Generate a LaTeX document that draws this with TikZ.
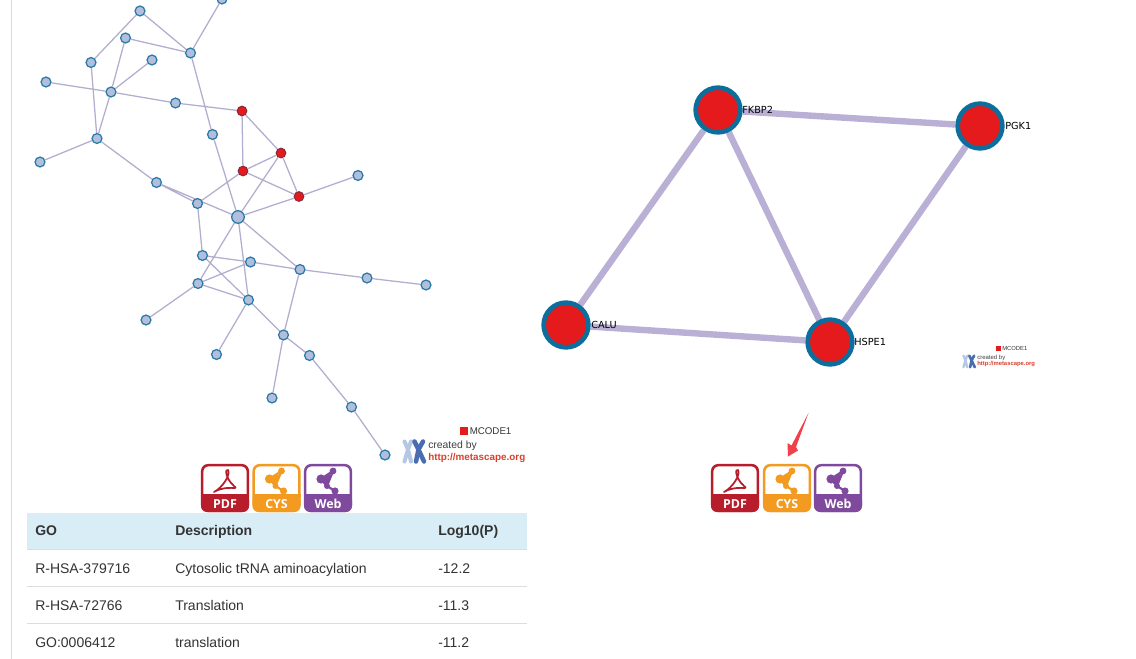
\documentclass[tikz,border=0pt]{standalone}
\usepackage{fontspec}
\setmainfont{Liberation Sans}
\newfontfamily\dejavu{DejaVu Sans}
\newfontfamily\iconfont{Open Sans}
\usetikzlibrary{backgrounds}
\definecolor{nodeblue}{HTML}{B1BFDD}
\definecolor{nodeedge}{HTML}{2B7AA8}
\definecolor{edgecol}{HTML}{B3ADCF}
\definecolor{bigedge}{HTML}{BAB0D6}
\definecolor{mred}{HTML}{E41A1C}
\definecolor{reddark}{HTML}{8A2A3C}
\definecolor{bigring}{HTML}{0B6E9C}
\definecolor{pdfred}{HTML}{B81D2C}
\definecolor{cysorange}{HTML}{F39A21}
\definecolor{webpurple}{HTML}{7F4A9E}
\definecolor{tablehead}{HTML}{D9EDF7}
\definecolor{tablerule}{HTML}{DDDDDD}
\definecolor{tabletext}{HTML}{333333}
\definecolor{sideline}{HTML}{BFE3EA}
\definecolor{logolight}{HTML}{B4C8E6}
\definecolor{logodark}{HTML}{4A6DB2}
\definecolor{linkred}{HTML}{D8402C}
\definecolor{arrowred}{HTML}{F0404A}
\newcommand{\netglyph}[1]{%
  \draw[#1,line width=1.6pt] (17,15)--(29,7)--(23,22)--cycle (23,22)--(31,27);
  \fill[#1] (17,15) circle (4.6) (29,7) circle (3.4) (31,27) circle (3.6) (23,22) circle (3) (24,13) circle (3.2) (22,18) circle (3);
}
\newcommand{\pdfglyph}{%
  \draw[pdfred,line width=1.3pt,line join=round]
    (13,28) .. controls (21,24) and (30,11) .. (27,6)
    .. controls (24,4) and (24,14) .. (33,22)
    .. controls (39,27) and (27,20) .. (13,28) -- cycle;
}
\tikzset{
  x=0.75pt,y=-0.75pt,
  sm/.style={circle,draw=nodeedge,fill=nodeblue,line width=0.95pt,minimum size=7.4pt,inner sep=0pt},
  hubnode/.style={sm,minimum size=9.4pt},
  rd/.style={circle,draw=reddark,fill=mred,line width=0.8pt,minimum size=7.2pt,inner sep=0pt},
  big/.style={circle,draw=bigring,fill=mred,line width=3.5pt,minimum size=33.5pt,inner sep=0pt},
  edge/.style={draw=edgecol,line width=0.95pt},
  bigedgeline/.style={draw=bigedge,line width=4.8pt},
  biglabel/.style={font=\dejavu\fontsize{7.3pt}{9pt}\selectfont,text=black,inner sep=0pt,anchor=base west},
  cell/.style={font=\fontsize{10.5pt}{12pt}\selectfont,text=tabletext,inner sep=0pt,anchor=base west},
  headcell/.style={cell,font=\fontsize{10.5pt}{12pt}\selectfont\bfseries},
  pics/icon/.style n args={3}{code={
    \fill[white,rounded corners=4.5pt] (0,0) rectangle (48,48);
    \fill[#1,rounded corners=4.5pt] (0,30) rectangle (48,48);
    \fill[#1] (0,30) rectangle (48,34);
    \draw[#1,line width=1.9pt,rounded corners=4.5pt] (1.2,1.2) rectangle (46.8,46.8);
    #3
    \node[font=\iconfont\bfseries\fontsize{9.3pt}{10pt}\selectfont,text=white,inner sep=0pt] at (24,39.6) {#2};
  }},
  pics/logo/.style={code={
    \draw[logolight,line width=#1*3pt,line cap=round]
      (2.5,2)--(6,10)--(2.5,22) (9,2)--(6,10)--(9,22);
    \draw[logodark,line width=#1*3.4pt,line cap=round]
      (12.5,2)--(16.5,10)--(14,22) (21,2)--(16.5,10)--(22,22);
  }},
}
\begin{document}
\begin{tikzpicture}
\clip (0,0) rectangle (1136,659);
\begin{pgfonlayer}{background}
\fill[white] (0,0) rectangle (1136,659);
\end{pgfonlayer}
\draw[sideline,line width=0.9pt] (11.5,0) coordinate (sa) -- (11.5,659) coordinate (sb);

% ---- left network
\node[sm] (n1) at (140,11) {};
\node[sm] (n2) at (222,-1) {};
\node[sm] (n3) at (125.5,38) {};
\node[sm] (n4) at (190.5,53) {};
\node[sm] (n5) at (91,62.5) {};
\node[sm] (n6) at (152,60) {};
\node[sm] (n7) at (46,82) {};
\node[sm] (n8) at (111,92) {};
\node[sm] (n9) at (175.5,103) {};
\node[rd] (r1) at (242,111) {};
\node[sm] (n10) at (212.5,134.5) {};
\node[sm] (n11) at (97,138.5) {};
\node[sm] (n12) at (40,162) {};
\node[rd] (r2) at (281,153) {};
\node[rd] (r3) at (243,171) {};
\node[sm] (n13) at (156.5,182.5) {};
\node[sm] (n14) at (197.5,203.5) {};
\node[rd] (r4) at (299,196.5) {};
\node[sm] (n15) at (358,175.5) {};
\node[hubnode] (hub) at (238,217) {};
\node[sm] (n16) at (202.5,255.5) {};
\node[sm] (n17) at (250.5,262) {};
\node[sm] (n18) at (198,283.5) {};
\node[sm] (n19) at (248.5,300) {};
\node[sm] (n20) at (300,269.5) {};
\node[sm] (n21) at (367,278) {};
\node[sm] (n22) at (426,285) {};
\node[sm] (n23) at (146,320) {};
\node[sm] (n24) at (216.5,354.5) {};
\node[sm] (n25) at (283.5,335) {};
\node[sm] (n26) at (309.5,355.5) {};
\node[sm] (n27) at (272,398) {};
\node[sm] (n28) at (351.5,407) {};
\node[sm] (n29) at (385,455) {};
\begin{pgfonlayer}{background}
\path[edge]
 (n1)--(n5) (n1)--(n4) (n2)--(n4) (n3)--(n4) (n3)--(n8) (n6)--(n8)
 (n5)--(n11) (n7)--(n8) (n8)--(n9) (n9)--(r1) (n8)--(n11) (n11)--(n12)
 (n11)--(n13) (n4)--(n10) (n10)--(hub) (r1)--(r3) (r1)--(r2) (r2)--(r3)
 (r2)--(r4) (r3)--(r4) (r2)--(hub) (r3)--(n14) (r4)--(hub) (r4)--(n15)
 (n13)--(n14) (n13)--(hub) (n14)--(n16) (hub)--(n18) (hub)--(n19) (hub)--(n20)
 (n16)--(n17) (n16)--(n19) (n18)--(n17) (n18)--(n19) (n18)--(n23) (n17)--(n20)
 (n20)--(n21) (n21)--(n22) (n20)--(n25) (n19)--(n24) (n19)--(n25) (n25)--(n26)
 (n25)--(n27) (n26)--(n28) (n28)--(n29);
\end{pgfonlayer}

% ---- right network
\node[big] (fk) at (718,110) {};
\node[big] (pg) at (980,126) {};
\node[big] (ca) at (566,325) {};
\node[big] (hs) at (830,342) {};
\begin{pgfonlayer}{background}
\path[bigedgeline] (fk)--(pg) (fk)--(ca) (fk)--(hs) (pg)--(hs) (ca)--(hs);
\end{pgfonlayer}
\node[biglabel] (lfk) at (742,114) {FKBP2};
\node[biglabel] (lpg) at (1005,130) {PGK1};
\node[biglabel] (lca) at (591,329) {CALU};
\node[biglabel] (lhs) at (854,346) {HSPE1};

% ---- left legend
\node[fill=mred,minimum size=6pt,inner sep=0pt] (lsq) at (464,431) {};
\node[font=\fontsize{7.3pt}{9pt}\selectfont,text=black!80,inner sep=0pt,anchor=base west] (lm) at (469.5,434.5) {MCODE1};
\pic at (402,439.5) {logo=1};
\node[font=\fontsize{7.8pt}{9pt}\selectfont,text=black!75,inner sep=0pt,anchor=base west] (lc) at (428,448.5) {created by};
\node[font=\fontsize{7.4pt}{9pt}\selectfont\bfseries,text=linkred,inner sep=0pt,anchor=base west] (lh) at (428,460.5) {http://metascape.org};

% ---- right legend
\node[fill=mred,minimum size=3.4pt,inner sep=0pt] (rsq) at (998.5,348.5) {};
\node[font=\fontsize{4.4pt}{5pt}\selectfont,text=black!80,inner sep=0pt,anchor=base west] (rm) at (1002,350.5) {MCODE1};
\pic[scale=0.58] at (962,354.5) {logo=0.58};
\node[font=\fontsize{4.5pt}{5pt}\selectfont,text=black!75,inner sep=0pt,anchor=base west] (rc) at (977,359.5) {created by};
\node[font=\fontsize{4.4pt}{5pt}\selectfont\bfseries,text=linkred,inner sep=0pt,anchor=base west] (rh) at (977,366) {http://metascape.org};

% ---- icons
\pic at (201,464) {icon={pdfred}{PDF}{\pdfglyph}};
\pic at (252.5,464) {icon={cysorange}{CYS}{\netglyph{cysorange}}};
\pic at (304,464) {icon={webpurple}{Web}{\netglyph{webpurple}}};
\pic at (711,464) {icon={pdfred}{PDF}{\pdfglyph}};
\pic at (763,464) {icon={cysorange}{CYS}{\netglyph{cysorange}}};
\pic at (814,464) {icon={webpurple}{Web}{\netglyph{webpurple}}};

% ---- red arrow
\fill[arrowred] (808.5,413) -- (796,447) -- (798,450.5) -- (788,456.5) -- (787.5,443) -- (791.5,445.5) -- cycle;

% ---- table
\fill[tablehead] (27,512.5) rectangle (527,548.5);
\draw[tablerule,line width=1.4pt] (27,549.5) coordinate (t1a) -- (527,549.5) coordinate (t1b);
\draw[tablerule,line width=0.8pt] (27,586.5) coordinate (t2a) -- (527,586.5) coordinate (t2b);
\draw[tablerule,line width=0.8pt] (27,623.5) coordinate (t3a) -- (527,623.5) coordinate (t3b);
\node[headcell] (h1) at (35,535) {GO};
\node[headcell] (h2) at (175,535) {Description};
\node[headcell] (h3) at (438,535) {Log10(P)};
\node[cell] (c11) at (35,573) {R-HSA-379716};
\node[cell] (c12) at (175,573) {Cytosolic tRNA aminoacylation};
\node[cell] (c13) at (438,573) {-12.2};
\node[cell] (c21) at (35,610) {R-HSA-72766};
\node[cell] (c22) at (175,610) {Translation};
\node[cell] (c23) at (438,610) {-11.3};
\node[cell] (c31) at (35,647) {GO:0006412};
\node[cell] (c32) at (175,647) {translation};
\node[cell] (c33) at (438,647) {-11.2};
\end{tikzpicture}
\end{document}
